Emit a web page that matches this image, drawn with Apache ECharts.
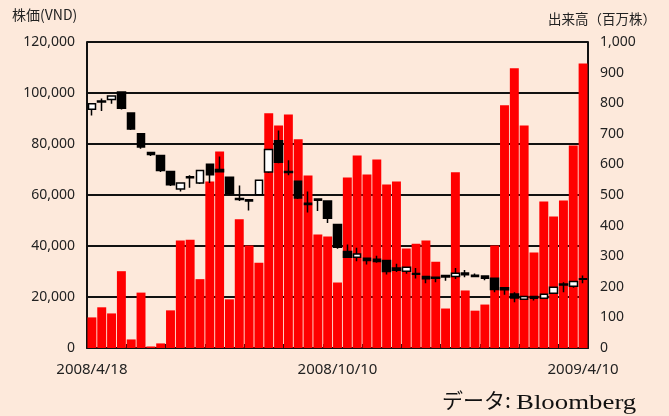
<!DOCTYPE html>
<html>
<head>
<meta charset="utf-8">
<script src="https://cdn.jsdelivr.net/npm/echarts@6/dist/echarts.min.js"></script>
<style>
  html, body { margin: 0; padding: 0; background: #fde9db; }
  #chart { width: 669px; height: 416px; }
</style>
</head>
<body>
<div id="chart"></div>
<script>
// 週足 (2009/1/30 はテト休場)
var dates = [
  '2008/4/18','2008/4/25','2008/5/2','2008/5/9','2008/5/16','2008/5/23','2008/5/30',
  '2008/6/6','2008/6/13','2008/6/20','2008/6/27','2008/7/4','2008/7/11','2008/7/18',
  '2008/7/25','2008/8/1','2008/8/8','2008/8/15','2008/8/22','2008/8/29','2008/9/5',
  '2008/9/12','2008/9/19','2008/9/26','2008/10/3','2008/10/10','2008/10/17','2008/10/24',
  '2008/10/31','2008/11/7','2008/11/14','2008/11/21','2008/11/28','2008/12/5','2008/12/12',
  '2008/12/19','2008/12/26','2009/1/2','2009/1/9','2009/1/16','2009/1/23','2009/2/6',
  '2009/2/13','2009/2/20','2009/2/27','2009/3/6','2009/3/13','2009/3/20','2009/3/27',
  '2009/4/3','2009/4/10'
];

// 株価 (VND)
var openPrices = [
  93600, 96500, 97500, 100400, 92150, 84000, 76700, 75500, 69250, 62400,
  66800, 64700, 72100, 70000, 67000, 58600, 58100, 60100, 69000, 81300,
  69200, 65400, 56800, 58400, 57600, 48400, 37800, 35600, 35200, 34800,
  34300, 31400, 30100, 29200, 28000, 27700, 28400, 28000, 29400, 28500,
  28200, 27400, 23600, 21200, 19100, 20200, 19500, 21500, 25100, 24200, 27000
];
var closePrices = [
  95800, 96900, 98800, 94000, 85870, 78800, 75900, 69600, 64000, 64700,
  67200, 69600, 67900, 69100, 60500, 58200, 57600, 65800, 77800, 72800,
  68800, 58800, 56300, 57900, 50900, 39500, 35600, 36900, 34300, 33900,
  30000, 30500, 31700, 28900, 27200, 27400, 27800, 29300, 28700, 28000,
  27400, 22900, 22800, 19600, 20200, 19500, 21100, 23800, 24700, 26100, 27200
];
var lowPrices = [
  91200, 92900, 95800, 93500, 85500, 78150, 75270, 69000, 63500, 61400,
  62800, 64300, 64700, 69100, 60100, 57600, 53900, 60100, 68600, 72500,
  67700, 58400, 53100, 53700, 49000, 38900, 35600, 34000, 32700, 33400,
  28800, 29800, 29100, 27300, 25400, 25800, 26400, 27100, 27700, 27700,
  26600, 21900, 20900, 17900, 19000, 18600, 19300, 21200, 21900, 23600, 25400
];
var highPrices = [
  96000, 97800, 98800, 100400, 92150, 84000, 76700, 75500, 69250, 64700,
  67700, 69800, 72100, 75100, 67000, 63700, 58100, 65800, 77800, 85300,
  73600, 65400, 61400, 58400, 57600, 48400, 40600, 39300, 35200, 36200,
  34600, 33000, 31700, 31400, 28000, 27700, 28400, 31400, 30600, 29200,
  28200, 27400, 23600, 21900, 20200, 20200, 21100, 23800, 25800, 26100, 28400
];

// 出来高 (百万株)
var volumes = [
  100, 133, 113, 251, 28, 181, 5, 15, 123, 351,
  354, 225, 544, 642, 159, 421, 335, 279, 767, 727,
  763, 682, 564, 371, 364, 214, 557, 629, 567, 616,
  534, 544, 325, 341, 351, 282, 129, 574, 188, 122,
  142, 335, 793, 914, 727, 312, 479, 430, 482, 662, 930
];

var priceTicks = { min: 0, max: 120000, interval: 20000 };
var volumeTicks = { min: 0, max: 1000, interval: 100 };

var candles = [];
for (var i = 0; i < dates.length; i++) {
  candles.push([openPrices[i], closePrices[i], lowPrices[i], highPrices[i]]);
}

var textFont = "'Noto Sans', 'Noto Sans CJK JP', sans-serif";
var cjkFont = "'Noto Sans CJK JP', sans-serif";
var labelStyle = { color: '#222', fontSize: 14, fontFamily: textFont };

var option = {
  backgroundColor: '#fde9db',
  animation: false,
  grid: { left: 87, right: 81, top: 42, bottom: 68 },
  graphic: [
    { type: 'text', left: 12, top: 8,
      style: { text: '株価(VND)', fontSize: 14, fill: '#222', fontFamily: cjkFont } },
    { type: 'text', left: 548, top: 12,
      style: { text: '出来高（百万株）', fontSize: 13.5, fill: '#222', fontFamily: cjkFont } },
    { type: 'text', left: 442, top: 390,
      style: { text: 'データ:', fontSize: 21, fill: '#111', fontFamily: cjkFont } },
    { type: 'text', x: 516, y: 392, scaleX: 1.22,
      style: { text: 'Bloomberg', fontSize: 22, fill: '#111',
               fontFamily: "'Liberation Serif', serif" } }
  ],
  xAxis: {
    type: 'category',
    data: dates,
    boundaryGap: true,
    axisLine: { lineStyle: { color: '#111', width: 2 } },
    axisTick: { show: true, inside: true, length: 4, interval: 3, lineStyle: { color: '#111' } },
    axisLabel: {
      color: '#222', fontSize: 15, fontFamily: textFont, margin: 14,
      interval: function (index) { return index % 25 === 0; }
    },
    splitLine: { show: false }
  },
  yAxis: [
    {
      type: 'value',
      min: priceTicks.min, max: priceTicks.max, interval: priceTicks.interval,
      axisLine: { show: true, lineStyle: { color: '#111', width: 2 } },
      axisTick: { show: false },
      axisLabel: Object.assign({ margin: 12, formatter: function (v) { return v.toLocaleString('en-US'); } }, labelStyle),
      splitLine: { show: true, lineStyle: { color: '#111', width: 2 } }
    },
    {
      type: 'value',
      min: volumeTicks.min, max: volumeTicks.max, interval: volumeTicks.interval,
      axisLine: { show: true, lineStyle: { color: '#111', width: 2 } },
      axisTick: { show: false },
      axisLabel: Object.assign({ margin: 12, formatter: function (v) { return v.toLocaleString('en-US'); } }, labelStyle),
      splitLine: { show: false }
    }
  ],
  series: [
    {
      name: '出来高',
      type: 'bar',
      yAxisIndex: 1,
      data: volumes,
      barWidth: '91%',
      itemStyle: { color: '#ff0000' },
      z: 2
    },
    {
      name: '株価',
      type: 'candlestick',
      yAxisIndex: 0,
      data: candles,
      barWidth: 8,
      itemStyle: {
        color: '#ffffff',
        color0: '#000000',
        borderColor: '#000000',
        borderColor0: '#000000',
        borderWidth: 1.5
      },
      z: 5
    }
  ]
};

var chart = echarts.init(document.getElementById('chart'));
chart.setOption(option);
</script>
</body>
</html>
